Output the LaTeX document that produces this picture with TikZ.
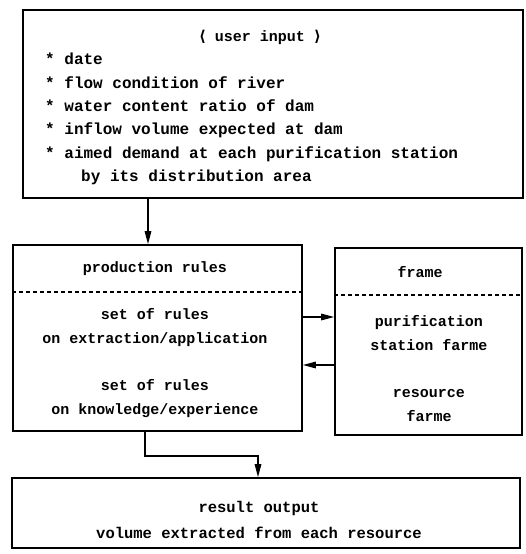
\documentclass[tikz,border=0pt]{standalone}
\usepackage{fontspec}
\setmonofont{Liberation Mono}
\newfontfamily\brfont{DejaVu Sans}
\usetikzlibrary{arrows.meta}
\begin{document}
\begin{tikzpicture}
    [x=1pt, y=-1pt,
     every node/.style={font=\ttfamily\bfseries\fontsize{15}{23.4}\selectfont, inner sep=0pt},
     box/.style={draw, line width=1.6pt},
     sep/.style={line width=1.1pt, dash pattern=on 4pt off 3pt},
     arr/.style={-{Triangle[length=13pt,width=6.5pt]}, line width=1.4pt}]
    \useasboundingbox (0,0) rectangle (526,554);
    \node[box, minimum width=500pt, minimum height=188pt] (input) at (273,104) {};
    \node (inputhead) at (260,37) {{\brfont\bfseries ⟨} user input {\brfont\bfseries ⟩}};
    \node[anchor=west, align=left, font=\ttfamily\bfseries\fontsize{16}{23.4}\selectfont] (inputlist) at (45,119)
      {* date\\* flow condition of river\\* water content ratio of dam\\
       * inflow volume expected at dam\\* aimed demand at each purification station\\
       \hspace*{36pt}by its distribution area};
    \node[box, minimum width=289pt, minimum height=186pt] (rules) at (157.5,338) {};
    \draw[sep] ([yshift=46pt]rules.west) -- ([yshift=46pt]rules.east);
    \node (ruleshead) at (155,269) {production rules};
    \node[align=center] (rulesbody) at (155,363)
      {set of rules\\on extraction/application\\[24pt]set of rules\\on knowledge/experience};
    \node[box, minimum width=187pt, minimum height=187pt] (frame) at (428.5,341.5) {};
    \draw[sep] ([yshift=46.5pt]frame.west) -- ([yshift=46.5pt]frame.east);
    \node (framehead) at (420,272) {frame};
    \node[align=center] (framebody) at (429,368.5)
      {purification\\station farme\\[24pt]resource\\farme};
    \node[box, minimum width=508pt, minimum height=70pt] (output) at (266,513) {};
    \node[align=center, font=\ttfamily\bfseries\fontsize{15.5}{23.4}\selectfont] (outputtext) at (259,520)
      {result output\\[3pt]volume extracted from each resource};
    \draw[arr] ([xshift=-9.5pt]rules.north |- input.south) -- ([xshift=-9.5pt]rules.north);
    \draw[arr] ([yshift=21pt]rules.east) -- ([yshift=21pt]rules.east -| frame.west);
    \draw[arr] ([yshift=-27pt]rules.east -| frame.west) -- ([yshift=-27pt]rules.east);
    \draw[arr] ([xshift=-12.5pt]rules.south) -- ++(0,24) -| ([xshift=-8pt]output.north);
\end{tikzpicture}
\end{document}
